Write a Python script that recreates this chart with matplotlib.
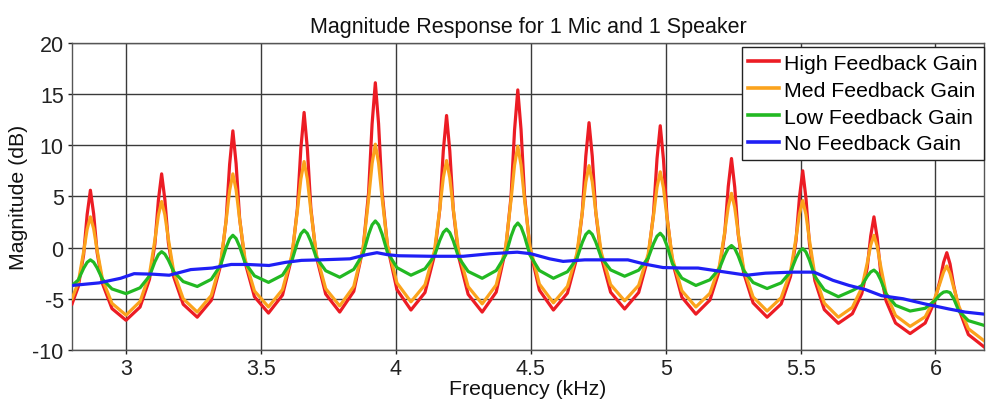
import matplotlib

matplotlib.use("Agg")
import matplotlib.pyplot as plt

plt.rcParams["font.family"] = ["Liberation Sans", "DejaVu Sans"]
plt.rcParams["axes.unicode_minus"] = False

# frequency grid (kHz) shared by the three feedback curves
freq = [
    2.800, 2.823, 2.843, 2.856, 2.868, 2.880, 2.893, 2.913, 2.948, 3.000,
    3.052, 3.087, 3.107, 3.120, 3.132, 3.144, 3.157, 3.177, 3.212, 3.264,
    3.316, 3.351, 3.371, 3.384, 3.396, 3.408, 3.421, 3.441, 3.476, 3.528,
    3.580, 3.615, 3.635, 3.648, 3.660, 3.672, 3.685, 3.705, 3.740, 3.792,
    3.844, 3.879, 3.899, 3.912, 3.924, 3.936, 3.949, 3.969, 4.004, 4.056,
    4.108, 4.143, 4.163, 4.176, 4.188, 4.200, 4.213, 4.233, 4.268, 4.320,
    4.372, 4.407, 4.427, 4.440, 4.452, 4.464, 4.477, 4.497, 4.532, 4.584,
    4.636, 4.671, 4.691, 4.704, 4.716, 4.728, 4.741, 4.761, 4.796, 4.848,
    4.900, 4.935, 4.955, 4.968, 4.980, 4.992, 5.005, 5.025, 5.060, 5.112,
    5.164, 5.199, 5.219, 5.232, 5.244, 5.256, 5.269, 5.289, 5.324, 5.376,
    5.428, 5.463, 5.483, 5.496, 5.508, 5.520, 5.533, 5.553, 5.588, 5.640,
    5.692, 5.727, 5.747, 5.760, 5.772, 5.784, 5.797, 5.817, 5.852, 5.906,
    5.962, 5.997, 6.017, 6.030, 6.042, 6.054, 6.067, 6.087, 6.122, 6.180,
]

high_db = [
    -5.5, -3.83, -0.69, 3.24, 5.6, 3.31, -0.50, -3.54, -5.96, -7.1,
    -5.81, -3.10, 0.34, 4.63, 7.2, 4.68, 0.48, -2.88, -5.54, -6.8,
    -5.16, -1.70, 2.66, 8.12, 11.4, 8.20, 2.86, -1.42, -4.80, -6.4,
    -4.64, -0.91, 3.79, 9.67, 13.2, 9.69, 3.84, -0.84, -4.54, -6.3,
    -4.28, -0.03, 5.35, 12.07, 16.1, 12.10, 5.44, 0.12, -4.10, -6.1,
    -4.39, -0.78, 3.78, 9.48, 12.9, 9.44, 3.68, -0.92, -4.57, -6.3,
    -4.35, -0.22, 4.98, 11.49, 15.4, 11.53, 5.08, -0.08, -4.16, -6.1,
    -4.45, -0.98, 3.42, 8.91, 12.2, 8.92, 3.46, -0.90, -4.36, -6.0,
    -4.39, -0.99, 3.31, 8.68, 11.9, 8.59, 3.07, -1.35, -4.84, -6.5,
    -5.13, -2.24, 1.40, 5.96, 8.7, 5.91, 1.26, -2.46, -5.40, -6.8,
    -5.51, -2.80, 0.64, 4.93, 7.5, 4.82, 0.35, -3.23, -6.06, -7.4,
    -6.46, -4.49, -1.99, 1.13, 3.0, 0.95, -2.47, -5.21, -7.37, -8.4,
    -7.37, -5.24, -3.19, -1.45, -0.5, -1.60, -3.63, -6.02, -8.50, -9.7,
]

med_db = [
    -5.0, -3.40, -0.40, 1.80, 3.0, 1.85, -0.26, -3.14, -5.45, -6.6,
    -5.27, -2.60, 0.73, 3.17, 4.5, 3.20, 0.83, -2.41, -5.00, -6.3,
    -4.68, -1.44, 2.61, 5.58, 7.2, 5.64, 2.78, -1.12, -4.24, -5.8,
    -4.10, -0.69, 3.57, 6.70, 8.4, 6.71, 3.61, -0.62, -4.01, -5.7,
    -3.80, -0.01, 4.73, 8.20, 10.1, 8.25, 4.86, 0.24, -3.45, -5.3,
    -3.64, -0.33, 3.81, 6.84, 8.5, 6.82, 3.74, -0.46, -3.82, -5.5,
    -3.65, 0.04, 4.66, 8.05, 9.9, 8.06, 4.70, 0.11, -3.56, -5.4,
    -3.79, -0.58, 3.44, 6.39, 8.0, 6.42, 3.51, -0.45, -3.62, -5.2,
    -3.69, -0.66, 3.12, 5.89, 7.4, 5.82, 2.91, -1.05, -4.22, -5.8,
    -4.47, -1.80, 1.53, 3.97, 5.3, 3.92, 1.39, -2.06, -4.82, -6.2,
    -4.90, -2.31, 0.93, 3.30, 4.6, 3.23, 0.72, -2.70, -5.43, -6.8,
    -5.84, -3.92, -1.52, 0.24, 1.2, 0.13, -1.83, -4.50, -6.63, -7.7,
    -6.76, -4.99, -3.45, -2.39, -1.8, -2.53, -3.84, -5.74, -7.93, -9.1,
]

low_db = [
    -3.7, -3.17, -2.02, -1.44, -1.2, -1.43, -1.99, -3.11, -4.04, -4.5,
    -3.93, -2.78, -1.38, -0.69, -0.4, -0.64, -1.22, -2.37, -3.32, -3.8,
    -3.10, -1.70, 0.00, 0.85, 1.2, 0.88, 0.10, -1.47, -2.76, -3.4,
    -2.69, -1.26, 0.48, 1.34, 1.7, 1.38, 0.60, -0.97, -2.26, -2.9,
    -2.13, -0.59, 1.28, 2.22, 2.6, 2.23, 1.33, -0.47, -1.96, -2.7,
    -2.07, -0.81, 0.72, 1.49, 1.8, 1.46, 0.65, -0.98, -2.33, -3.0,
    -2.24, -0.73, 1.10, 2.02, 2.4, 2.02, 1.10, -0.73, -2.24, -3.0,
    -2.36, -1.07, 0.50, 1.28, 1.6, 1.29, 0.54, -0.95, -2.18, -2.8,
    -2.21, -1.04, 0.39, 1.11, 1.4, 1.04, 0.18, -1.56, -2.99, -3.7,
    -3.15, -2.06, -0.74, -0.07, 0.2, -0.09, -0.81, -2.24, -3.41, -4.0,
    -3.45, -2.36, -1.04, -0.37, -0.1, -0.43, -1.23, -2.83, -4.14, -4.8,
    -4.20, -3.71, -2.82, -2.38, -2.2, -2.48, -3.16, -4.52, -5.64, -6.2,
    -5.93, -5.20, -4.60, -4.35, -4.3, -4.40, -4.95, -6.21, -7.14, -7.6,
]

# no-feedback curve is slowly varying, sampled on its own grid
none_freq = [
    2.80, 2.90, 2.98, 3.03, 3.10, 3.16, 3.24, 3.32, 3.39, 3.45,
    3.53, 3.59, 3.65, 3.72, 3.83, 3.89, 3.93, 3.97, 4.01, 4.13,
    4.25, 4.35, 4.45, 4.50, 4.57, 4.62, 4.70, 4.86, 4.92, 4.99,
    5.06, 5.12, 5.21, 5.30, 5.37, 5.47, 5.55, 5.62, 5.68, 5.74,
    5.80, 5.88, 5.96, 6.05, 6.11, 6.18,
]
none_db = [
    -3.7, -3.45, -3.0, -2.55, -2.6, -2.7, -2.15, -2.0, -1.65, -1.65,
    -1.75, -1.45, -1.25, -1.2, -1.1, -0.7, -0.5, -0.7, -0.8, -0.85,
    -0.85, -0.6, -0.45, -0.6, -1.1, -1.35, -1.2, -1.2, -1.6, -1.95,
    -2.0, -2.0, -2.35, -2.7, -2.5, -2.4, -2.4, -3.2, -3.7, -4.1,
    -4.7, -5.0, -5.5, -6.0, -6.3, -6.5,
]

labels = ["High Feedback Gain", "Med Feedback Gain",
          "Low Feedback Gain", "No Feedback Gain"]
x_ticks = [3, 3.5, 4, 4.5, 5, 5.5, 6]
x_tick_labels = ["3", "3.5", "4", "4.5", "5", "5.5", "6"]
y_ticks = [-10, -5, 0, 5, 10, 15, 20]

RED = "#ec1c24"
ORANGE = "#fba31c"
GREEN = "#22b922"
BLUE = "#1f1ff5"

fig = plt.figure(figsize=(9.87, 4.02), dpi=100)
ax = fig.add_axes([0.073, 0.127, 0.924, 0.764])

lw = 2.3
ax.plot(freq, high_db, color=RED, lw=lw, label=labels[0], zorder=3)
ax.plot(freq, med_db, color=ORANGE, lw=lw, label=labels[1], zorder=4)
ax.plot(freq, low_db, color=GREEN, lw=lw, label=labels[2], zorder=5)
ax.plot(none_freq, none_db, color=BLUE, lw=lw, label=labels[3], zorder=6)

ax.set_xlim(2.80, 6.18)
ax.set_ylim(-10, 20)
ax.set_xticks(x_ticks)
ax.set_xticklabels(x_tick_labels)
ax.set_yticks(y_ticks)
ax.grid(True, color="#3a3a3a", lw=1.0, zorder=1)
ax.set_axisbelow(True)
ax.tick_params(labelsize=15.5, colors="#222222", length=3, width=1,
               direction="out", pad=3)
for s in ax.spines.values():
    s.set_color("#555555")
    s.set_linewidth(1.0)

ax.set_title("Magnitude Response for 1 Mic and 1 Speaker", fontsize=15.5,
             color="#111111", pad=8)
ax.set_xlabel("Frequency (kHz)", fontsize=15.3, color="#111111", labelpad=0)
ax.set_ylabel("Magnitude (dB)", fontsize=15.3, color="#111111", labelpad=3)

leg = ax.legend(loc="upper right", bbox_to_anchor=(1.0, 0.985), fontsize=15.3,
                frameon=True, fancybox=False, edgecolor="#222222",
                framealpha=1.0, borderpad=0.3, labelspacing=0.37,
                handlelength=1.45, handletextpad=0.25, borderaxespad=0.0)
leg.get_frame().set_linewidth(1.0)
for line in leg.get_lines():
    line.set_linewidth(2.6)

fig.savefig("out.png", dpi=100)
